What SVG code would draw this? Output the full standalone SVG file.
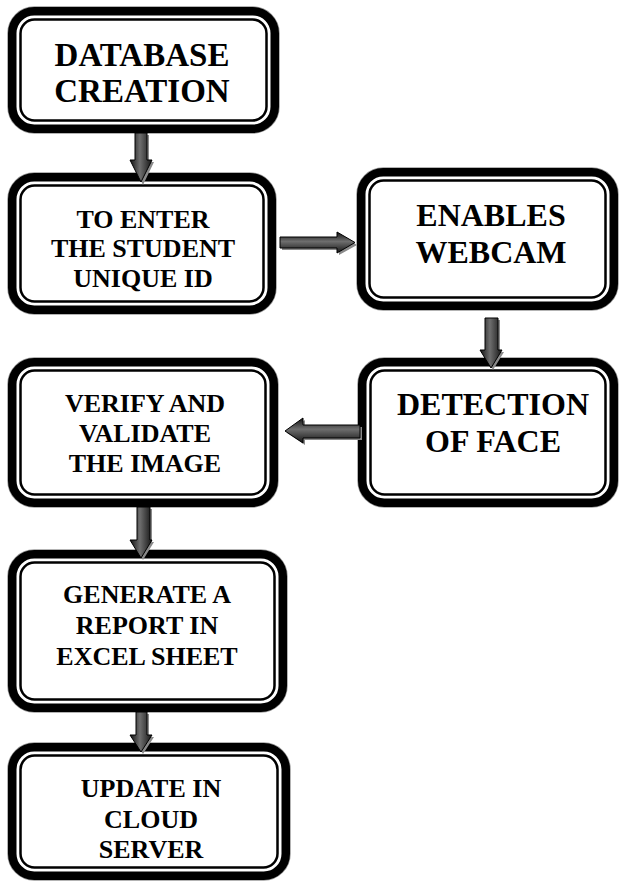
<svg xmlns="http://www.w3.org/2000/svg" width="620" height="882" viewBox="0 0 620 882">
<defs>
<linearGradient id="gv" x1="0" y1="0" x2="1" y2="0">
<stop offset="0" stop-color="#111"/><stop offset="0.45" stop-color="#6e6e6e"/><stop offset="1" stop-color="#151515"/>
</linearGradient>
<linearGradient id="gh" x1="0" y1="0" x2="0" y2="1">
<stop offset="0" stop-color="#111"/><stop offset="0.45" stop-color="#6e6e6e"/><stop offset="1" stop-color="#151515"/>
</linearGradient>
<style>
.o{fill:#fff;stroke:#000;stroke-width:8.5}
.sh{fill:none;stroke:#9a9a9a;stroke-width:10}
.i{fill:none;stroke:#000;stroke-width:2.5}
text{font-family:'Liberation Serif',serif;font-weight:700;text-anchor:middle;fill:#000}
.s{font-size:26px}
.b{font-size:33px}
.m{font-size:32px}
.av{fill:url(#gv);stroke:#000;stroke-width:1}
.ah{fill:url(#gh);stroke:#000;stroke-width:1}
.ps{fill:#8a8a8a}
</style>
</defs>
<g id="n1" font-family="Liberation Serif">
<rect class="sh" x="12.25" y="11.25" width="262.5" height="117.5" rx="22"/>
<rect class="o" x="12.25" y="11.25" width="262.5" height="117.5" rx="22"/>
<rect class="i" x="20.5" y="19.5" width="246" height="101" rx="14"/>
<text class="b" x="142" y="66">DATABASE</text>
<text class="b" x="142" y="102">CREATION</text>
</g>
<g id="n2">
<rect class="sh" x="12.25" y="177.25" width="259.5" height="132.5" rx="22"/>
<rect class="o" x="12.25" y="177.25" width="259.5" height="132.5" rx="22"/>
<rect class="i" x="20.5" y="185.5" width="243" height="116" rx="14"/>
<text class="s" x="143" y="228">TO ENTER</text>
<text class="s" x="143" y="257">THE STUDENT</text>
<text class="s" x="143" y="287">UNIQUE ID</text>
</g>
<g id="n3">
<rect class="sh" x="361.25" y="172.25" width="252.5" height="133.5" rx="22"/>
<rect class="o" x="361.25" y="172.25" width="252.5" height="133.5" rx="22"/>
<rect class="i" x="369.5" y="180.5" width="236" height="117" rx="14"/>
<text class="m" x="491" y="226">ENABLES</text>
<text class="m" x="491" y="263">WEBCAM</text>
</g>
<g id="n4">
<rect class="sh" x="362.25" y="362.25" width="251.5" height="140.5" rx="22"/>
<rect class="o" x="362.25" y="362.25" width="251.5" height="140.5" rx="22"/>
<rect class="i" x="370.5" y="370.5" width="235" height="124" rx="14"/>
<text class="m" x="493" y="415">DETECTION</text>
<text class="m" x="493" y="452">OF FACE</text>
</g>
<g id="n5">
<rect class="sh" x="12.25" y="362.25" width="261.5" height="140.5" rx="22"/>
<rect class="o" x="12.25" y="362.25" width="261.5" height="140.5" rx="22"/>
<rect class="i" x="20.5" y="370.5" width="245" height="124" rx="14"/>
<text class="s" x="145" y="412">VERIFY AND</text>
<text class="s" x="145" y="442">VALIDATE</text>
<text class="s" x="145" y="472">THE IMAGE</text>
</g>
<g id="n6">
<rect class="sh" x="12.25" y="554.25" width="270.5" height="153.5" rx="22"/>
<rect class="o" x="12.25" y="554.25" width="270.5" height="153.5" rx="22"/>
<rect class="i" x="20.5" y="562.5" width="254" height="137" rx="14"/>
<text class="s" x="147" y="603">GENERATE A</text>
<text class="s" x="147" y="634">REPORT IN</text>
<text class="s" x="147" y="665">EXCEL SHEET</text>
</g>
<g id="n7">
<rect class="sh" x="12.25" y="747.25" width="273.5" height="128.5" rx="22"/>
<rect class="o" x="12.25" y="747.25" width="273.5" height="128.5" rx="22"/>
<rect class="i" x="20.5" y="755.5" width="257" height="112" rx="14"/>
<text class="s" x="151" y="797">UPDATE IN</text>
<text class="s" x="151" y="828">CLOUD</text>
<text class="s" x="151" y="858">SERVER</text>
</g>
<g id="connectors">
<polygon class="ps" points="137,135 149,135 149,162 154,162 143,185 132,162 137,162"/>
<polygon class="av" points="135,133 147,133 147,160 152,160 141,182 130,160 135,160"/>
<polygon class="ps" points="282,239 339,239 339,234 357,245 339,255 339,250 282,250"/>
<polygon class="ah" points="280,237 337,237 337,232 355,242.5 337,253 337,248 280,248"/>
<polygon class="ps" points="487,320 500,320 500,352 504,352 493,370 482,352 487,352"/>
<polygon class="av" points="485,318 498,318 498,350 502,350 491,368 480,350 485,350"/>
<polygon class="ps" points="362,427 305,427 305,420 287,433 305,445 305,440 362,440"/>
<polygon class="ah" points="360,425 303,425 303,418 285,431 303,443 303,438 360,438"/>
<polygon class="ps" points="139,509 152,509 152,542 154,542 143,560 132,542 139,542"/>
<polygon class="av" points="137,507 150,507 150,540 152,540 141,558 130,540 137,540"/>
<polygon class="ps" points="139,714 149,714 149,737 154,737 143,754 132,737 139,737"/>
<polygon class="av" points="136,712 147,712 147,735 152,735 141,752 130,735 136,735"/>
</g>
</svg>
